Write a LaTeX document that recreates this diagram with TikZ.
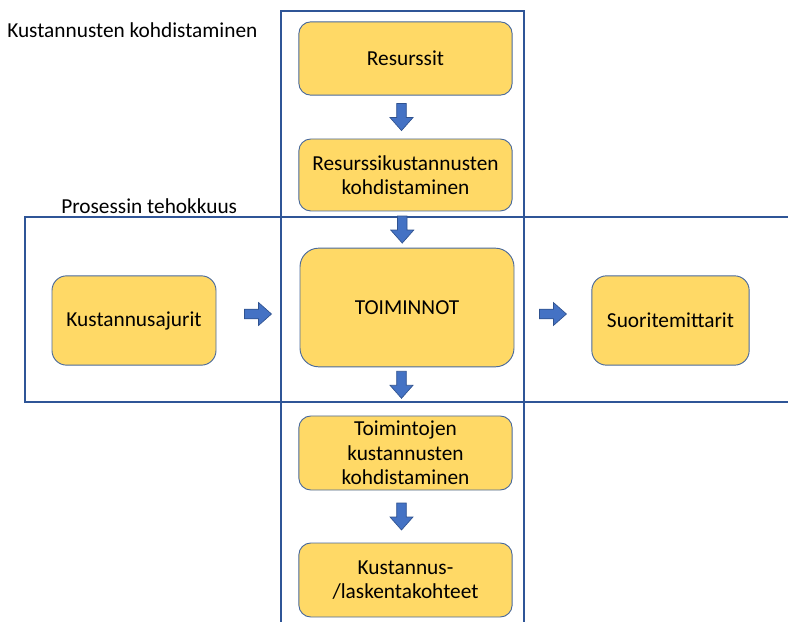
\documentclass[tikz,border=0pt]{standalone}
\usepackage{fontspec}
\setmainfont{Carlito}
\usetikzlibrary{calc}
\definecolor{BoxFill}{HTML}{FFD966}
\definecolor{BoxEdge}{HTML}{4A6A9C}
\definecolor{ArrowFill}{HTML}{4472C4}
\definecolor{ArrowEdge}{HTML}{2F528F}
\definecolor{FrameBlue}{HTML}{2F5597}
\tikzset{
  box/.style={draw=BoxEdge, fill=BoxFill, line width=0.7pt, rounded corners=9pt,
    align=center, inner sep=2pt, font=\fontsize{16}{18.4}\selectfont},
  frame/.style={draw=FrameBlue, line width=0.9pt},
  label/.style={anchor=west, inner sep=0pt, font=\fontsize{16}{18.4}\selectfont}
}
\newcommand{\blockarrow}[2]{% coordinate, rotation
  \begin{scope}[shift={(#1)}, rotate=#2]
    \filldraw[fill=ArrowFill, draw=ArrowEdge, line width=0.5pt]
      (-13.5,-4.8) -- (0.5,-4.8) -- (0.5,-11.5) -- (13.5,0)
      -- (0.5,11.5) -- (0.5,4.8) -- (-13.5,4.8) -- cycle;
  \end{scope}
}

\begin{document}
\begin{tikzpicture}[x=0.75pt, y=0.75pt]
\useasboundingbox (0,0) rectangle (788,621);

% Frames
\draw[frame] (281,-5) -- (281,610) -- (524,610) -- (524,-5);
\draw[frame] (800,404) -- (25,404) -- (25,219) -- (800,219);

% Frame titles
\node[label] (kohtit) at (7,591) {Kustannusten kohdistaminen};
\node[label] (protit) at (61,415) {Prosessin tehokkuus};

% Boxes
\node[box, minimum width=160pt, minimum height=55pt] (res) at (405.5,562.5) {Resurssit};
\node[box, minimum width=160pt, minimum height=54pt] (resk) at (405.5,446) {Resurssikustannusten\\kohdistaminen};
\node[box, minimum width=160.5pt, minimum height=89pt, rounded corners=14pt] (toim) at (407,313.5) {TOIMINNOT};
\node[box, minimum width=123pt, minimum height=67pt, rounded corners=11pt] (ajur) at (134,300.5) {Kustannusajurit};
\node[box, minimum width=118pt, minimum height=67pt, rounded corners=11pt] (suor) at (670.5,300.5) {Suoritemittarit};
\node[box, minimum width=160pt, minimum height=55.5pt] (tkoh) at (405.5,168) {Toimintojen\\kustannusten\\kohdistaminen};
\node[box, minimum width=160pt, minimum height=55.5pt] (kohd) at (405.5,41) {Kustannus-\\/laskentakohteet};

% Block arrows
\coordinate (a1) at ($(res.south)!0.5!(resk.north)+(-4,0)$);
\coordinate (a2) at ($(resk.south)!0.5!(toim.north)+(-4,0)$);
\coordinate (a3) at ($(toim.south)+(-5.5,-17.5)$);
\coordinate (a4) at ($(tkoh.south)!0.5!(kohd.north)+(-4,0)$);
\coordinate (a5) at ($(ajur.east)!0.5!(toim.west)$);
\coordinate (a6) at ($(toim.east)!0.5!(suor.west)$);
\blockarrow{a1}{-90}
\blockarrow{a2}{-90}
\blockarrow{a3}{-90}
\blockarrow{a4}{-90}
\blockarrow{a5}{0}
\blockarrow{a6}{0}

\end{tikzpicture}
\end{document}
